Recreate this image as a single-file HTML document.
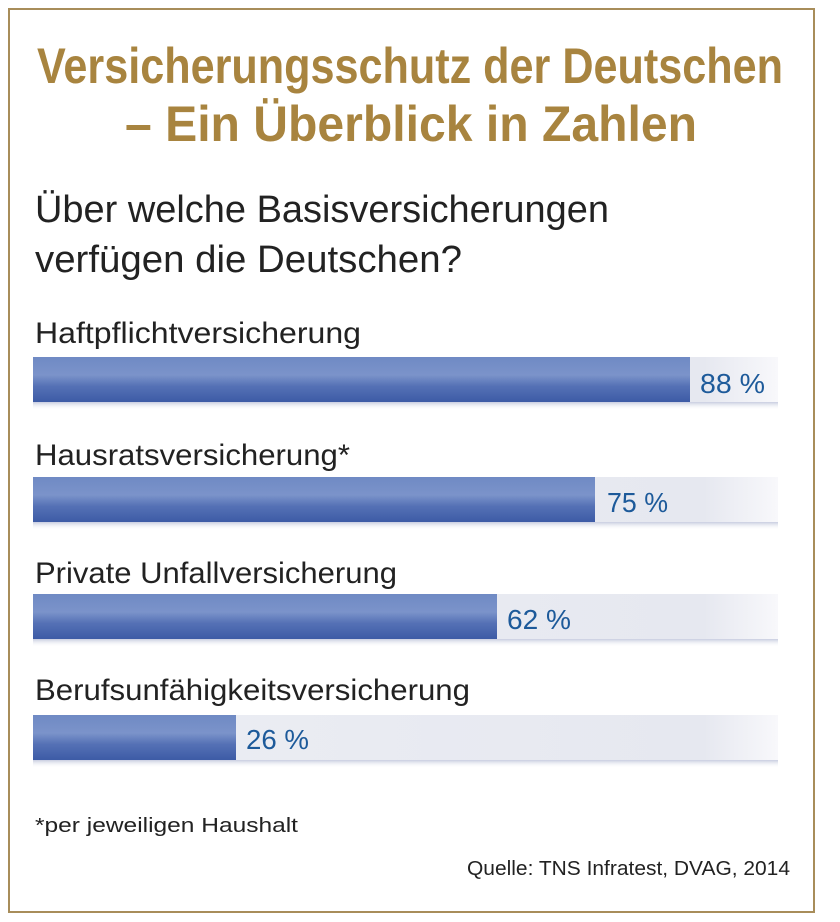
<!DOCTYPE html>
<html><head><meta charset="utf-8"><style>
html,body{margin:0;padding:0;background:#fff;}
svg{display:block;}
</style></head><body>
<svg width="840" height="922" viewBox="0 0 840 922" xmlns="http://www.w3.org/2000/svg" font-family="Liberation Sans, sans-serif">
<defs>
<linearGradient id="bar" x1="0" y1="0" x2="0" y2="1">
<stop offset="0" stop-color="#6f8ac4"/><stop offset="0.4" stop-color="#7b93ca"/><stop offset="0.65" stop-color="#5571b5"/><stop offset="1" stop-color="#3d5ba6"/>
</linearGradient>
<linearGradient id="trk" x1="0" y1="0" x2="1" y2="0">
<stop offset="0" stop-color="#eceef4"/><stop offset="0.9" stop-color="#e6e8f0"/><stop offset="1" stop-color="#f8f8fb"/>
</linearGradient>
<linearGradient id="shd" x1="0" y1="0" x2="0" y2="1">
<stop offset="0" stop-color="#c8cde0"/><stop offset="1" stop-color="#ffffff" stop-opacity="0"/>
</linearGradient>
</defs>
<rect x="9" y="9" width="805" height="903" fill="none" stroke="#a88d5a" stroke-width="2"/>
<g fill="#a8843f" font-weight="bold" font-size="50">
<text x="37" y="83" textLength="746" lengthAdjust="spacingAndGlyphs">Versicherungsschutz der Deutschen</text>
<text x="125" y="141" textLength="572" lengthAdjust="spacingAndGlyphs">– Ein Überblick in Zahlen</text>
</g>
<g fill="#222" font-size="38">
<text x="35" y="222" textLength="574" lengthAdjust="spacingAndGlyphs">Über welche Basisversicherungen</text>
<text x="35" y="272" textLength="427" lengthAdjust="spacingAndGlyphs">verfügen die Deutschen?</text>
</g>
<g fill="#222" font-size="30">
<text x="35" y="343" textLength="326" lengthAdjust="spacingAndGlyphs">Haftpflichtversicherung</text>
<text x="35" y="465" textLength="315" lengthAdjust="spacingAndGlyphs">Hausratsversicherung*</text>
<text x="35" y="583" textLength="362" lengthAdjust="spacingAndGlyphs">Private Unfallversicherung</text>
<text x="35" y="700" textLength="435" lengthAdjust="spacingAndGlyphs">Berufsunfähigkeitsversicherung</text>
</g>
<g>
<rect x="33" y="402" width="745" height="8" fill="url(#shd)"/>
<rect x="33" y="357" width="745" height="45" fill="url(#trk)"/>
<rect x="33" y="357" width="657" height="45" fill="url(#bar)"/>
<rect x="33" y="522" width="745" height="8" fill="url(#shd)"/>
<rect x="33" y="477" width="745" height="45" fill="url(#trk)"/>
<rect x="33" y="477" width="562" height="45" fill="url(#bar)"/>
<rect x="33" y="639" width="745" height="8" fill="url(#shd)"/>
<rect x="33" y="594" width="745" height="45" fill="url(#trk)"/>
<rect x="33" y="594" width="464" height="45" fill="url(#bar)"/>
<rect x="33" y="760" width="745" height="8" fill="url(#shd)"/>
<rect x="33" y="715" width="745" height="45" fill="url(#trk)"/>
<rect x="33" y="715" width="203" height="45" fill="url(#bar)"/>
</g>
<g fill="#1d5a9a" font-size="28">
<text x="700" y="393" textLength="65" lengthAdjust="spacingAndGlyphs">88 %</text>
<text x="607" y="512" textLength="61" lengthAdjust="spacingAndGlyphs">75 %</text>
<text x="507" y="629" textLength="64" lengthAdjust="spacingAndGlyphs">62 %</text>
<text x="246" y="749" textLength="63" lengthAdjust="spacingAndGlyphs">26 %</text>
</g>
<g fill="#222" font-size="20">
<text x="35" y="832" textLength="263" lengthAdjust="spacingAndGlyphs">*per jeweiligen Haushalt</text>
<text x="467" y="875" textLength="323" lengthAdjust="spacingAndGlyphs">Quelle: TNS Infratest, DVAG, 2014</text>
</g>
</svg>
</body></html>
